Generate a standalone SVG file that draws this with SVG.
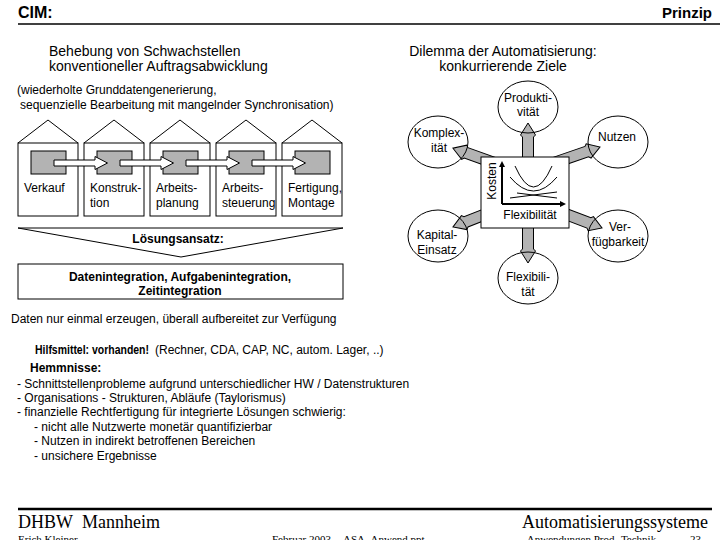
<svg xmlns="http://www.w3.org/2000/svg" width="720" height="540" viewBox="0 0 720 540">
<defs>
<style>
text{font-family:"Liberation Sans",Arial,sans-serif;fill:#000}
.t12{font-size:12px}
.t14{font-size:14px}
.b{font-weight:bold}
.mid{text-anchor:middle}
.end{text-anchor:end}
.ser{font-family:"Liberation Serif","Times New Roman",serif}
.house{fill:#fff;stroke:#000;stroke-width:1}
.core{fill:#b3b3b3;stroke:#000;stroke-width:1}
.warrow{fill:#fff;stroke:#000;stroke-width:1}
.garrow{fill:#b3b3b3;stroke:#000;stroke-width:1}
.goal{fill:none;stroke:#000;stroke-width:1}
.thin{fill:none;stroke:#000;stroke-width:1}
</style>
</defs>
<rect width="720" height="540" fill="#fff"/>

<!-- header -->
<text x="18" y="18" class="b" style="font-size:16px">CIM:</text>
<text x="712" y="18" class="b end" style="font-size:15px">Prinzip</text>
<line x1="18" y1="24" x2="720" y2="24" stroke="#000" stroke-width="1.5"/>

<text x="49" y="56" class="t14">Behebung von Schwachstellen</text>
<text x="49" y="71" class="t14">konventioneller Auftragsabwicklung</text>
<text x="17" y="94" class="t12">(wiederholte Grunddatengenerierung,</text>
<text x="20" y="109" class="t12">sequenzielle Bearbeitung mit mangelnder Synchronisation)</text>

<!-- houses -->
<g id="house-verkauf">
<rect x="18" y="143" width="60" height="73" class="house"/>
<polyline points="18,143 48,120 78,143" class="thin"/>
<rect x="31" y="151" width="35" height="23" class="core"/>
<text x="24" y="192" class="t12">Verkauf</text>
</g>
<g id="house-konstruktion">
<rect x="84" y="143" width="60" height="73" class="house"/>
<polyline points="84,143 114,120 144,143" class="thin"/>
<rect x="97" y="151" width="35" height="23" class="core"/>
<text x="90" y="192" class="t12">Konstruk-</text>
<text x="90" y="207" class="t12">tion</text>
</g>
<g id="house-arbeitsplanung">
<rect x="150" y="143" width="60" height="73" class="house"/>
<polyline points="150,143 180,120 210,143" class="thin"/>
<rect x="163" y="151" width="35" height="23" class="core"/>
<text x="156" y="192" class="t12">Arbeits-</text>
<text x="156" y="207" class="t12">planung</text>
</g>
<g id="house-arbeitssteuerung">
<rect x="216" y="143" width="60" height="73" class="house"/>
<polyline points="216,143 246,120 276,143" class="thin"/>
<rect x="229" y="151" width="35" height="23" class="core"/>
<text x="222" y="192" class="t12">Arbeits-</text>
<text x="222" y="207" class="t12">steuerung</text>
</g>
<g id="house-fertigung">
<rect x="282" y="143" width="60" height="73" class="house"/>
<polyline points="282,143 312,120 342,143" class="thin"/>
<rect x="295" y="151" width="35" height="23" class="core"/>
<text x="288" y="192" class="t12">Fertigung,</text>
<text x="288" y="207" class="t12">Montage</text>
</g>

<g id="connectors-flow">
<polygon points="54,160 95,160 95,156.5 107.5,163 95,169.5 95,166 54,166" class="warrow"/>
<polygon points="120,160 161,160 161,156.5 173.5,163 161,169.5 161,166 120,166" class="warrow"/>
<polygon points="186,160 227,160 227,156.5 239.5,163 227,169.5 227,166 186,166" class="warrow"/>
<polygon points="252,160 293,160 293,156.5 305.5,163 293,169.5 293,166 252,166" class="warrow"/>
</g>

<!-- Lösungsansatz -->
<g id="loesungsansatz">
<polygon points="18,228 343,228 181,257" class="thin"/>
<text x="178" y="243" class="t12 b mid">Lösungsansatz:</text>
</g>

<g id="integration">
<rect x="18" y="264" width="325" height="35" class="house"/>
<text x="180" y="281" class="t12 b mid">Datenintegration, Aufgabenintegration,</text>
<text x="180" y="295" class="t12 b mid">Zeitintegration</text>
</g>

<text x="11" y="323" class="t12">Daten nur einmal erzeugen, überall aufbereitet zur Verfügung</text>

<text x="35" y="354" class="t12 b" textLength="114" lengthAdjust="spacingAndGlyphs">Hilfsmittel: vorhanden!</text>
<text x="155" y="354" class="t12">(Rechner, CDA, CAP, NC, autom. Lager, ..)</text>
<text x="30" y="372" class="t12 b">Hemmnisse:</text>
<text x="17" y="388" class="t12">- Schnittstellenprobleme aufgrund unterschiedlicher HW / Datenstrukturen</text>
<text x="17" y="402" class="t12">- Organisations - Strukturen, Abläufe (Taylorismus)</text>
<text x="17" y="416" class="t12">- finanzielle Rechtfertigung für integrierte Lösungen schwierig:</text>
<text x="34" y="431" class="t12">- nicht alle Nutzwerte monetär quantifizierbar</text>
<text x="34" y="445" class="t12">- Nutzen in indirekt betroffenen Bereichen</text>
<text x="34" y="460" class="t12">- unsichere Ergebnisse</text>

<!-- Dilemma -->
<text x="503" y="56" class="t14 mid">Dilemma der Automatisierung:</text>
<text x="503" y="71" class="t14 mid">konkurrierende Ziele</text>

<g id="connectors-goals">
<polygon transform="translate(528,170) rotate(-90)" points="0,-5.5 33,-5.5 35,-7.5 47,0 35,7.5 33,5.5 0,5.5" class="garrow"/>
<polygon transform="translate(528,215) rotate(90)" points="0,-5.5 34,-5.5 36,-7.5 48,0 36,7.5 34,5.5 0,5.5" class="garrow"/>
<polygon transform="translate(500,165) rotate(-160.35)" points="0,-5.5 36,-5.5 38,-7.5 50,0 38,7.5 36,5.5 0,5.5" class="garrow"/>
<polygon transform="translate(552.7,163.3) rotate(-18.97)" points="0,-5.5 36,-5.5 38,-7.5 50,0 38,7.5 36,5.5 0,5.5" class="garrow"/>
<polygon transform="translate(499.5,208.7) rotate(158.55)" points="0,-5.5 36,-5.5 38,-7.5 50,0 38,7.5 36,5.5 0,5.5" class="garrow"/>
<polygon transform="translate(555.3,210.1) rotate(20.9)" points="0,-5.5 36,-5.5 38,-7.5 50,0 38,7.5 36,5.5 0,5.5" class="garrow"/>
</g>

<g id="goal-produktivitaet">
<ellipse cx="528" cy="107" rx="30" ry="26" class="goal"/>
<text x="528" y="102" class="t12 mid">Produkti-</text>
<text x="528" y="116" class="t12 mid">vität</text>
</g>
<g id="goal-komplexitaet">
<ellipse cx="438" cy="142" rx="30" ry="26" class="goal"/>
<text x="439" y="137" class="t12 mid">Komplex-</text>
<text x="439" y="152" class="t12 mid">ität</text>
</g>
<g id="goal-nutzen">
<ellipse cx="618" cy="142" rx="30" ry="26" class="goal"/>
<text x="617" y="141" class="t12 mid">Nutzen</text>
</g>
<g id="goal-kapitaleinsatz">
<ellipse cx="438" cy="236" rx="30" ry="26" class="goal"/>
<text x="437" y="239" class="t12 mid">Kapital-</text>
<text x="437" y="254" class="t12 mid">Einsatz</text>
</g>
<g id="goal-verfuegbarkeit">
<ellipse cx="618" cy="236" rx="30" ry="26" class="goal"/>
<text x="620" y="231" class="t12 mid">Ver-</text>
<text x="618" y="246" class="t12 mid">fügbarkeit</text>
</g>
<g id="goal-flexibilitaet">
<ellipse cx="528" cy="278" rx="30" ry="26" class="goal"/>
<text x="528" y="281" class="t12 mid">Flexibili-</text>
<text x="528" y="296" class="t12 mid">tät</text>
</g>

<g id="chart">
<rect x="481" y="157" width="88" height="71" class="house"/>
<line x1="502" y1="204" x2="502" y2="166" stroke="#000" stroke-width="2"/>
<line x1="502" y1="204" x2="561" y2="204" stroke="#000" stroke-width="2"/>
<polygon points="499,167 505,167 502,161" fill="#000"/>
<polygon points="560,201 560,207 566,204" fill="#000"/>
<path d="M515,166 Q533.5,208 552,166" class="thin"/>
<path d="M510,177 Q533.5,205 557,177" class="thin"/>
<line x1="510" y1="198" x2="557" y2="192" stroke="#000" stroke-width="1"/>
<line x1="517" y1="193" x2="557" y2="198" stroke="#000" stroke-width="1"/>
<text transform="translate(496,181) rotate(-90)" class="t12 mid">Kosten</text>
<text x="530" y="219" class="t12 mid">Flexibilität</text>
</g>

<!-- footer -->
<line x1="18" y1="509" x2="712" y2="509" stroke="#000" stroke-width="2.5"/>
<text x="18" y="528" class="ser" style="font-size:18px">DHBW&#160; Mannheim</text>
<text x="708" y="528" class="ser end" style="font-size:18px">Automatisierungssysteme</text>
<text x="18" y="543" class="ser" style="font-size:11px">Erich Kleiner</text>
<text x="272" y="543" class="ser" style="font-size:11px">Februar 2003</text>
<text x="343" y="543" class="ser" style="font-size:11px">ASA_Anwend.ppt</text>
<text x="521" y="543" class="ser" style="font-size:11px">- Anwendungen Prod.-Technik</text>
<text x="690" y="543" class="ser" style="font-size:11px">23</text>
</svg>
